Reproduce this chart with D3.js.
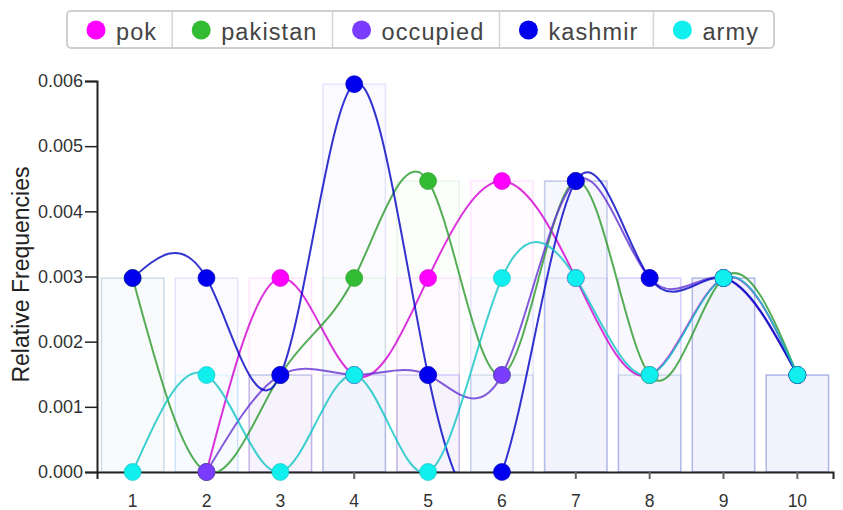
<!DOCTYPE html>
<html>
<head>
<meta charset="utf-8">
<script src="https://cdn.jsdelivr.net/npm/d3@7"></script>
<style>
  body { margin: 0; background: #fff; }
  svg { display: block; font-family: "Liberation Sans", Arial, sans-serif; }
</style>
</head>
<body>
<div id="viz"></div>
<script>
// categories and series (null = no point for that word position)
const categories = [1, 2, 3, 4, 5, 6, 7, 8, 9, 10]
const seriesNames = ["pok", "pakistan", "occupied", "kashmir", "army"]
const seriesColors = ["#ff00ff", "#33bb33", "#7a3cff", "#0000ee", "#11eeee"]
const pokValues = [null, 0, 0.002976, 0.001488, 0.002976, 0.004464, 0.002976, 0.001488, 0.002976, 0.001488]
const pakistanValues = [0.002976, 0, 0.001488, 0.002976, 0.004464, 0.001488, 0.004464, 0.001488, 0.002976, 0.001488]
const occupiedValues = [null, 0, 0.001488, 0.001488, 0.001488, 0.001488, 0.004464, 0.002976, 0.002976, 0.001488]
const kashmirValues = [0.002976, 0.002976, 0.001488, 0.005952, 0.001488, 0, 0.004464, 0.002976, 0.002976, 0.001488]
const armyValues = [0, 0.001488, 0, 0.001488, 0, 0.002976, 0.002976, 0.001488, 0.002976, 0.001488]
const yTicks = [0, 0.001, 0.002, 0.003, 0.004, 0.005, 0.006]

const allValues = [pokValues, pakistanValues, occupiedValues, kashmirValues, armyValues]
const series = seriesNames.map((name, i) => ({
    name,
    color: seriesColors[i],
    points: categories.map((c, j) => ({ x: c, v: allValues[i][j] }))
}))

const W = 843, H = 510
const svg = d3.select("#viz").append("svg").attr("width", W).attr("height", H)

const x = d3.scaleBand().domain(categories).range([97, 833]).paddingInner(0.155).paddingOuter(0.06)
const y = d3.scaleLinear().domain([0, 0.006]).range([472, 81])
const cx = d => x(d) + x.bandwidth() / 2

// bars, one layer per series, very faint
const bars = svg.append("g")
series.forEach(s => {
    bars.append("g").selectAll("rect")
        .data(s.points.filter(p => p.v != null))
        .join("rect")
        .attr("x", d => x(d.x))
        .attr("y", d => y(d.v))
        .attr("width", x.bandwidth())
        .attr("height", d => y(0) - y(d.v))
        .attr("fill", s.color)
        .attr("fill-opacity", 0.014)
        .attr("stroke", s.color)
        .attr("stroke-opacity", 0.1)
        .attr("stroke-width", 1.5)
})

// axes
const yAxis = svg.append("g").attr("transform", "translate(97,0)")
    .call(d3.axisLeft(y).tickValues(yTicks).tickFormat(d3.format(".3f")).tickSize(12).tickPadding(2))
yAxis.select(".domain").attr("stroke", "#222").attr("stroke-width", 2)
yAxis.selectAll(".tick line").attr("stroke", "#222").attr("stroke-width", 1.5)
yAxis.selectAll("text").attr("font-size", 18).attr("fill", "#333").attr("font-family", "Liberation Sans, Arial")

const xAxis = svg.append("g").attr("transform", "translate(0,472)")
    .call(d3.axisBottom(x).tickSizeOuter(0).tickSize(7).tickPadding(16))
xAxis.select(".domain").attr("stroke", "#222").attr("stroke-width", 2)
xAxis.selectAll(".tick line").attr("stroke", "#666").attr("stroke-width", 2)
xAxis.selectAll("text").attr("font-size", 17.5).attr("fill", "#333").attr("font-family", "Liberation Sans, Arial")

svg.append("text")
    .attr("transform", "translate(28.5,274.5) rotate(-90)")
    .attr("text-anchor", "middle")
    .attr("font-size", 23)
    .attr("fill", "#222")
    .text("Relative Frequencies")

// smooth lines
svg.append("clipPath").attr("id", "plotclip")
    .append("rect").attr("x", 97).attr("y", 60).attr("width", 740).attr("height", 412)

const line = d3.line()
    .defined(d => d.v != null)
    .x(d => cx(d.x))
    .y(d => y(d.v))
    .curve(d3.curveNatural)

svg.append("g").attr("clip-path", "url(#plotclip)")
    .selectAll("path")
    .data(series)
    .join("path")
    .attr("d", d => line(d.points))
    .attr("fill", "none")
    .attr("stroke", d => d3.color(d.color).darker(0.55))
    .attr("stroke-opacity", 0.8)
    .attr("stroke-width", 2)

const markers = svg.append("g")
series.forEach(s => {
    markers.append("g").selectAll("circle")
        .data(s.points.filter(p => p.v != null))
        .join("circle")
        .attr("cx", d => cx(d.x))
        .attr("cy", d => y(d.v))
        .attr("r", 8.5)
        .attr("fill", s.color)
        .attr("stroke", d3.color(s.color).darker(0.6))
        .attr("stroke-width", 1)
        .attr("stroke-opacity", 0.6)
})

// legend box
const legend = svg.append("g")
const legBox = legend.append("rect")
    .attr("x", 67).attr("y", 11).attr("height", 37).attr("rx", 4)
    .attr("fill", "#fff").attr("stroke", "#cfcfcf").attr("stroke-width", 2)
let lx = 67
series.forEach((s, i) => {
    if (i > 0) {
        legend.append("line").attr("x1", lx).attr("x2", lx).attr("y1", 12).attr("y2", 47)
            .attr("stroke", "#d6d6d6").attr("stroke-width", 1.5)
    }
    legend.append("circle").attr("cx", lx + 29).attr("cy", 30).attr("r", 9.5).attr("fill", s.color)
    const t = legend.append("text")
        .attr("x", lx + 49).attr("y", 39.5)
        .attr("font-size", 23.5)
        .attr("letter-spacing", 1.1)
        .attr("fill", "#444")
        .text(s.name)
    lx += 49 + t.node().getComputedTextLength() + 15
})
legBox.attr("width", lx - 67)
</script>
</body>
</html>
